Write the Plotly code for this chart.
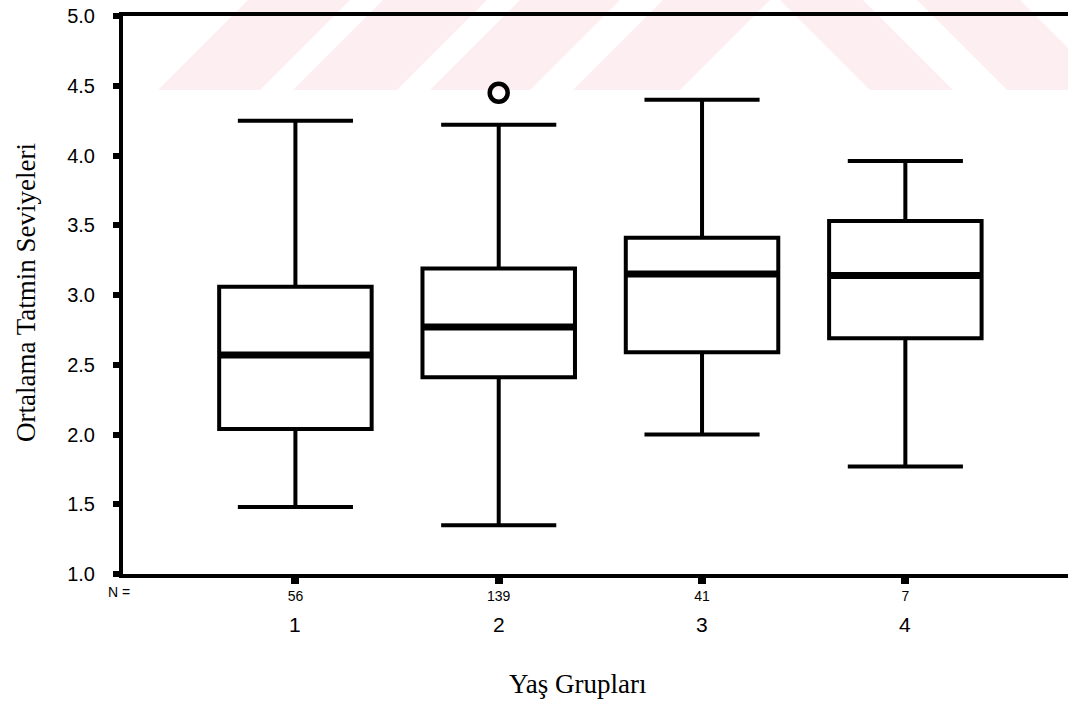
import plotly.graph_objects as go

# ---- data ----
categories = [1, 2, 3, 4]
n_counts = ["56", "139", "41", "7"]
upper_whisker = [4.25, 4.22, 4.40, 3.96]
q3_values = [3.06, 3.19, 3.41, 3.53]
medians = [2.57, 2.77, 3.15, 3.14]
q1_values = [2.04, 2.41, 2.59, 2.69]
lower_whisker = [1.48, 1.35, 2.00, 1.77]
outlier_x = [2]
outlier_y = [4.45]
y_ticks = [1.0, 1.5, 2.0, 2.5, 3.0, 3.5, 4.0, 4.5, 5.0]

BOX_W = 0.75
W, H = 1068, 709
ML, MR, MT, MB = 123, 0, 16, 135
PW, PH = W - ML - MR, H - MT - MB

SANS = "Liberation Sans, Arial, sans-serif"
SERIF = "Liberation Serif, Times New Roman, serif"

def px_x(p):
    return (p - ML) / PW

def px_y(p):
    return 1 - (p - MT) / PH

fig = go.Figure()

fig.add_trace(go.Box(
    x=categories, q1=q1_values, median=medians, q3=q3_values,
    lowerfence=lower_whisker, upperfence=upper_whisker,
    width=BOX_W, whiskerwidth=0.755, boxpoints=False,
    line=dict(color="black", width=4), fillcolor="white",
    showlegend=False, hoverinfo="skip",
))

# thicker median bars
mx, my = [], []
for c, m in zip(categories, medians):
    mx += [c - BOX_W / 2, c + BOX_W / 2, None]
    my += [m, m, None]
fig.add_trace(go.Scatter(x=mx, y=my, mode="lines",
                         line=dict(color="black", width=7),
                         showlegend=False, hoverinfo="skip"))

fig.add_trace(go.Scatter(x=outlier_x, y=outlier_y, mode="markers",
                         marker=dict(symbol="circle-open", size=18, color="black",
                                     line=dict(width=4.5, color="black")),
                         showlegend=False))

# faint watermark stripes (decoration)
shapes = []
wm_color = "#fdeef1"
yb, yt = 90, 0
for b0, b1 in [(158, 260), (293, 397), (430, 530), (573, 680)]:
    d = 90
    path = (f"M {px_x(b0)},{px_y(yb)} L {px_x(b1)},{px_y(yb)} "
            f"L {px_x(b1 + d)},{px_y(yt)} L {px_x(b0 + d)},{px_y(yt)} Z")
    shapes.append(dict(type="path", path=path, xref="paper", yref="paper",
                       fillcolor=wm_color, line=dict(width=0), layer="below"))
for b0, b1 in [(870, 953), (1007, 1110)]:
    d = -90
    path = (f"M {px_x(b0)},{px_y(yb)} L {px_x(b1)},{px_y(yb)} "
            f"L {px_x(b1 + d)},{px_y(yt)} L {px_x(b0 + d)},{px_y(yt)} Z")
    shapes.append(dict(type="path", path=path, xref="paper", yref="paper",
                       fillcolor=wm_color, line=dict(width=0), layer="below"))

annotations = []
for c in categories:
    annotations.append(dict(x=c, y=px_y(624), xref="x", yref="paper",
                            text=str(c), showarrow=False,
                            font=dict(family=SANS, size=21, color="black"),
                            xanchor="center", yanchor="middle"))
annotations.append(dict(x=px_x(119), y=px_y(592), xref="paper", yref="paper",
                        text="N =", showarrow=False,
                        font=dict(family=SANS, size=14, color="black"),
                        xanchor="center", yanchor="middle"))
annotations.append(dict(x=px_x(578), y=px_y(684), xref="paper", yref="paper",
                        text="Yaş Grupları", showarrow=False,
                        font=dict(family=SERIF, size=27, color="black"),
                        xanchor="center", yanchor="middle"))
annotations.append(dict(x=px_x(26), y=px_y(293), xref="paper", yref="paper",
                        text="Ortalama Tatmin Seviyeleri", showarrow=False,
                        textangle=-90,
                        font=dict(family=SERIF, size=27, color="black"),
                        xanchor="center", yanchor="middle"))

fig.update_layout(
    width=W, height=H,
    margin=dict(l=ML, r=MR, t=MT, b=MB, pad=0),
    paper_bgcolor="white", plot_bgcolor="white",
    showlegend=False,
    shapes=shapes, annotations=annotations,
    xaxis=dict(range=[0.152, 4.80], tickmode="array", tickvals=categories,
               ticktext=n_counts, ticks="outside", ticklen=6, tickwidth=8,
               tickcolor="black", showline=True, linewidth=4, linecolor="black",
               mirror=True, showgrid=False, zeroline=False,
               tickfont=dict(family=SANS, size=14, color="black")),
    yaxis=dict(range=[1, 5], tickmode="array", tickvals=y_ticks,
               ticktext=[f"{v:.1f}" for v in y_ticks], ticks="outside",
               ticklen=6, tickwidth=6, tickcolor="black", showline=True,
               linewidth=4, linecolor="black", mirror=False, showgrid=False,
               zeroline=False, ticklabelstandoff=14,
               tickfont=dict(family=SANS, size=20, color="black")),
)

fig.write_html(
    "out.html",
    config={"displayModeBar": False},
    post_script="document.body.style.margin='0';document.body.style.overflow='hidden';",
)
